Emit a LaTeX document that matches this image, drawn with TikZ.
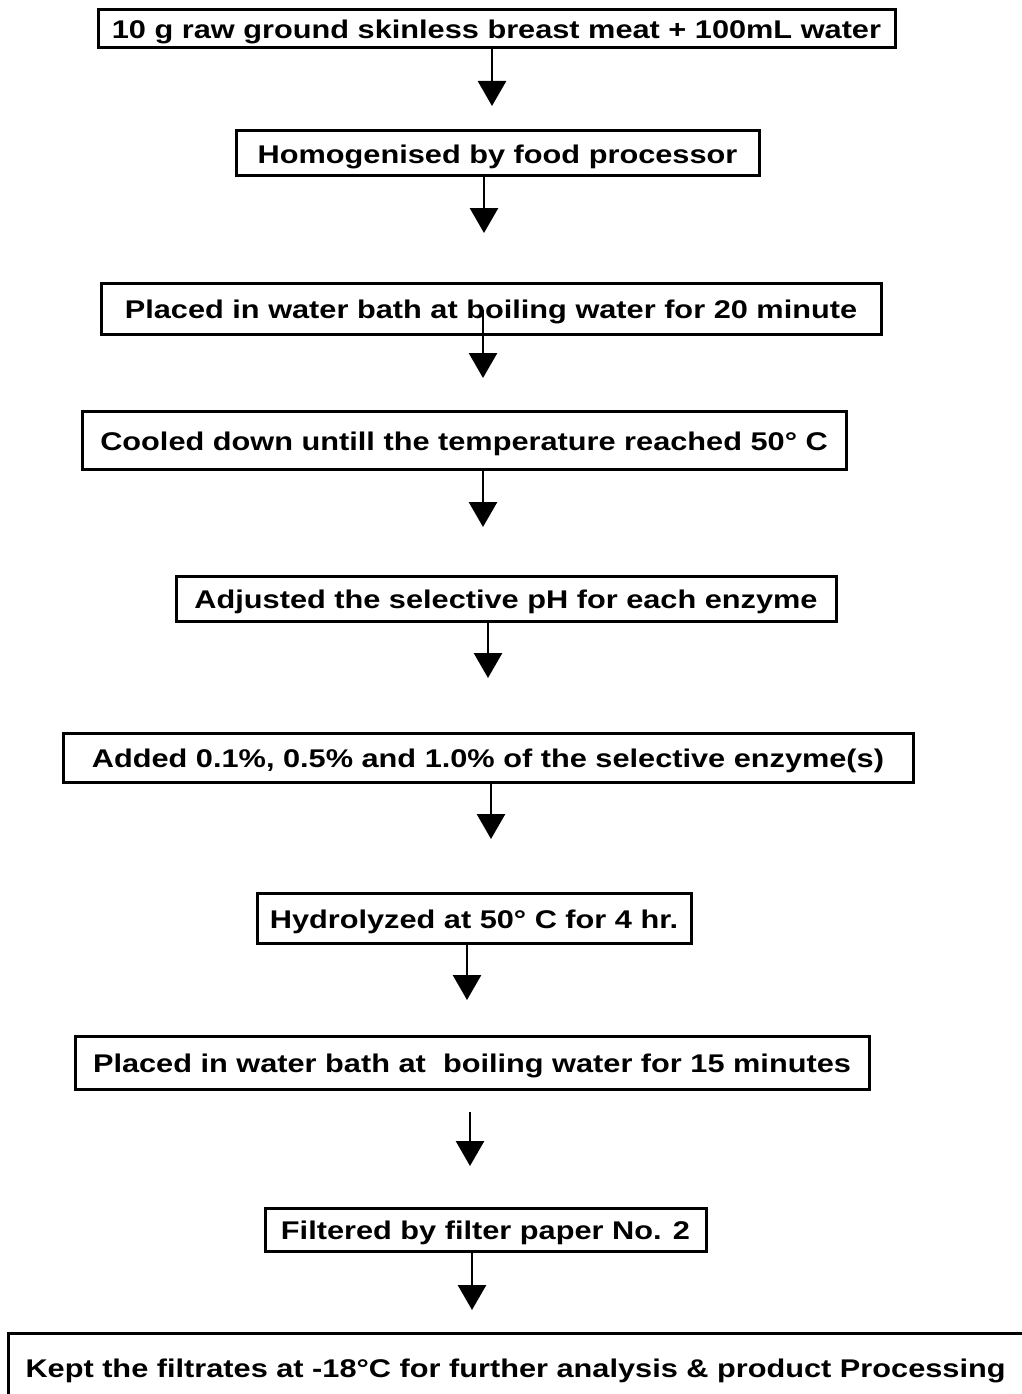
\documentclass[tikz,border=0pt]{standalone}
\usepackage{fontspec}
\newfontfamily\labfont{Liberation Sans}[FakeStretch=1.2]
\usetikzlibrary{arrows.meta}
\begin{document}
\begin{tikzpicture}[x=1pt,y=-1pt,
  stepbox/.style={draw, line width=3pt, inner sep=0pt, align=center,
    text height=22pt, text depth=2pt,
    font=\labfont\bfseries\fontsize{25.6}{30}\selectfont},
  openbox/.style={stepbox, draw=none},
  border/.style={line width=3pt},
  arr/.style={line width=2.8pt, -{Triangle[width=28pt,length=25pt]}}]
\fill[white] (0,0) rectangle (1022,1394);
\useasboundingbox (0,0) rectangle (1022,1394);
% boxes: centre, width, height
\node[stepbox, minimum width=797pt, minimum height=38pt] (b1) at (496.5,29) {10 g raw ground skinless breast meat + 100mL water};
\node[stepbox, minimum width=523pt, minimum height=44pt] (b2) at (497.5,153) {Homogenised by food processor};
\node[stepbox, minimum width=780pt, minimum height=51pt] (b3) at (491,308.5) {Placed in water bath at boiling water for 20 minute};
\node[stepbox, minimum width=764pt, minimum height=58pt] (b4) at (464,440) {Cooled down untill the temperature reached 50° C};
\node[stepbox, minimum width=660pt, minimum height=45pt] (b5) at (506,598.5) {Adjusted the selective pH for each enzyme};
\node[stepbox, minimum width=850pt, minimum height=49pt] (b6) at (488,757.5) {Added 0.1\%, 0.5\% and 1.0\% of the selective enzyme(s)};
\node[stepbox, minimum width=434pt, minimum height=50pt] (b7) at (474,918) {Hydrolyzed at 50° C for 4 hr.};
\node[stepbox, minimum width=794pt, minimum height=53pt] (b8) at (472,1062.5) {Placed in water bath at\ \ boiling water for 15 minutes};
\node[stepbox, minimum width=441pt, minimum height=43pt] (b9) at (485.5,1229.5) {Filtered by filter paper No. 2};
\node[openbox, anchor=west, text width=990pt, align=left, inner xsep=16pt, minimum height=64pt] (b10) at (8,1367) {Kept the filtrates at -18°C for further analysis \& product Processing};
\coordinate (edge) at (1022,1335);
\draw[border] (b10.north -| edge) -- (b10.north west) -- (b10.south west);
% arrow tips and free ends
\coordinate (t1) at (492,106);
\coordinate (t2) at (484,233);
\coordinate (s3) at (483,310);
\coordinate (t3) at (483,378);
\coordinate (t4) at (483,527);
\coordinate (t5) at (488,678);
\coordinate (t6) at (491,839);
\coordinate (t7) at (467,1000);
\coordinate (s8) at (470,1112);
\coordinate (t8) at (470,1166);
\coordinate (t9) at (472,1310);
\draw[arr] (b1.south -| t1) -- (t1);
\draw[arr] (b2.south -| t2) -- (t2);
\draw[arr] (s3) -- (t3);
\draw[arr] (b4.south -| t4) -- (t4);
\draw[arr] (b5.south -| t5) -- (t5);
\draw[arr] (b6.south -| t6) -- (t6);
\draw[arr] (b7.south -| t7) -- (t7);
\draw[arr] (s8) -- (t8);
\draw[arr] (b9.south -| t9) -- (t9);
\end{tikzpicture}
\end{document}
